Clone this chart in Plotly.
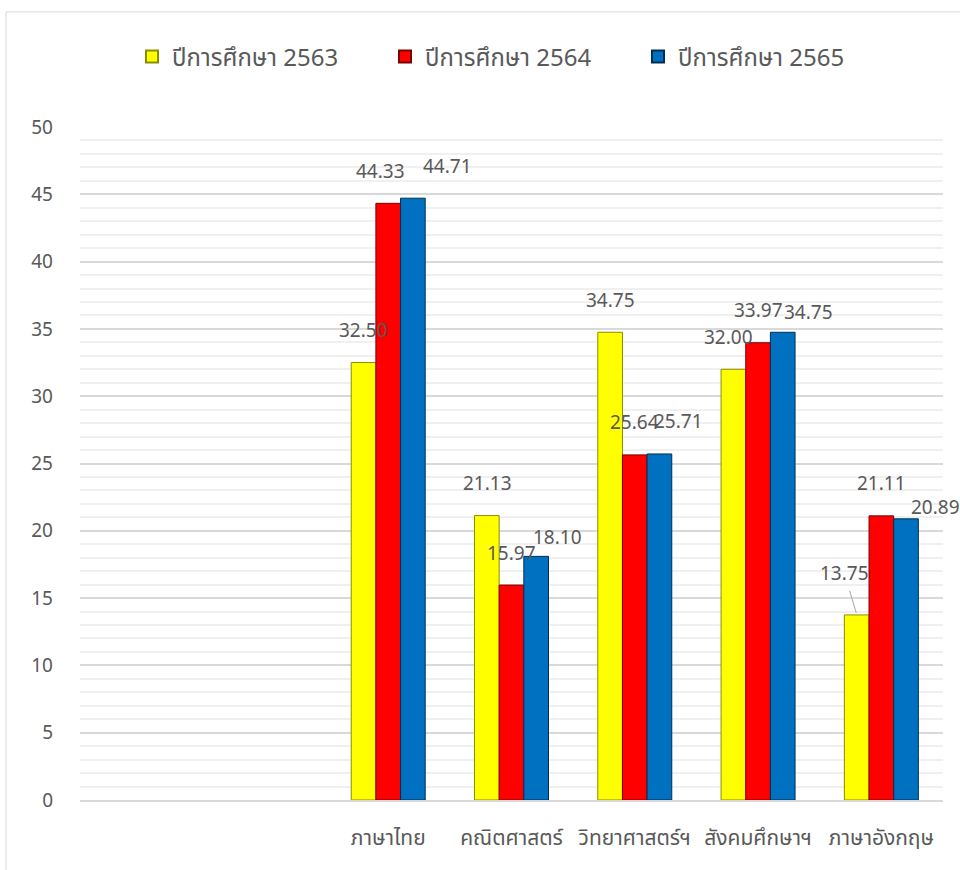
import plotly.graph_objects as go

subjects = ["ภาษาไทย", "คณิตศาสตร์", "วิทยาศาสตร์ฯ", "สังคมศึกษาฯ", "ภาษาอังกฤษ"]
y2563 = [32.50, 21.13, 34.75, 32.00, 13.75]
y2564 = [44.33, 15.97, 25.64, 33.97, 21.11]
y2565 = [44.71, 18.10, 25.71, 34.75, 20.89]
series_names = ["ปีการศึกษา 2563", "ปีการศึกษา 2564", "ปีการศึกษา 2565"]

colors = ["#FFFF00", "#FF0000", "#0070C0"]
edges = ["#8C8C00", "#7A0000", "#002F52"]
font_main = "Noto Sans Thai, Tahoma, Noto Sans, sans-serif"
gray = "#595959"

fig = go.Figure()
for name, vals, c, e in zip(series_names, [y2563, y2564, y2565], colors, edges):
    fig.add_trace(go.Bar(
        x=subjects, y=vals, name=name,
        marker=dict(color=c, line=dict(color=e, width=1)),
    ))

# label nudges in px (dx, dy) for the ones Excel moved around
nudge = {
    (1, 0): (-8, 0), (2, 0): (35, 0),
    (2, 1): (21, 13),
    (2, 2): (19, 0),
    (0, 3): (-5, 0), (2, 3): (26, 12),
    (2, 4): (30, 21),
}
bar_off = [-24.5, 0, 24.5]
for i, vals in enumerate([y2563, y2564, y2565]):
    for j, v in enumerate(vals):
        dx, dy = nudge.get((i, j), (0, 0))
        if (i, j) == (0, 4):
            fig.add_annotation(x=subjects[j], y=v, text=f"{v:.2f}", xshift=bar_off[i],
                               showarrow=True, ax=-12, ay=-40, arrowhead=0,
                               arrowcolor="#A6A6A6", arrowwidth=1, standoff=2,
                               font=dict(size=19, color=gray, family=font_main))
            continue
        fig.add_annotation(x=subjects[j], y=v, text=f"{v:.2f}", showarrow=False,
                           xshift=bar_off[i] + dx, yshift=31 - dy, yanchor="middle",
                           font=dict(size=19, color=gray, family=font_main))

# outer chart border
fig.add_shape(type="rect", xref="paper", yref="paper",
              x0=-0.0857, x1=1.05, y0=-0.12, y1=1.171,
              line=dict(color="#D9D9D9", width=1))

fig.update_layout(
    width=960, height=870,
    margin=dict(l=80, r=17, t=127, b=70),
    plot_bgcolor="white", paper_bgcolor="white",
    barmode="group", bargap=0.4, bargroupgap=0,
    font=dict(family=font_main, color=gray, size=18),
    legend=dict(orientation="h", x=0.5, xanchor="center", y=1.104, yanchor="middle",
                font=dict(size=24, color=gray), entrywidth=208, itemsizing="constant"),
    xaxis=dict(type="category", range=[-2.5, 4.5], showgrid=False, ticks="",
               tickfont=dict(size=21, color=gray), showline=True,
               linecolor="#D9D9D9", linewidth=2, ticklabelstandoff=18),
    yaxis=dict(range=[0, 50], dtick=5, showgrid=True, gridcolor="#D9D9D9", gridwidth=1.5,
               minor=dict(dtick=1, showgrid=True, gridcolor="#F0F0F0", gridwidth=1.5),
               zeroline=False, tickfont=dict(size=19, color=gray), ticklabelstandoff=26),
)

fig.write_html("out.html", config={"displayModeBar": False},
               post_script="document.body.style.margin='0';")
